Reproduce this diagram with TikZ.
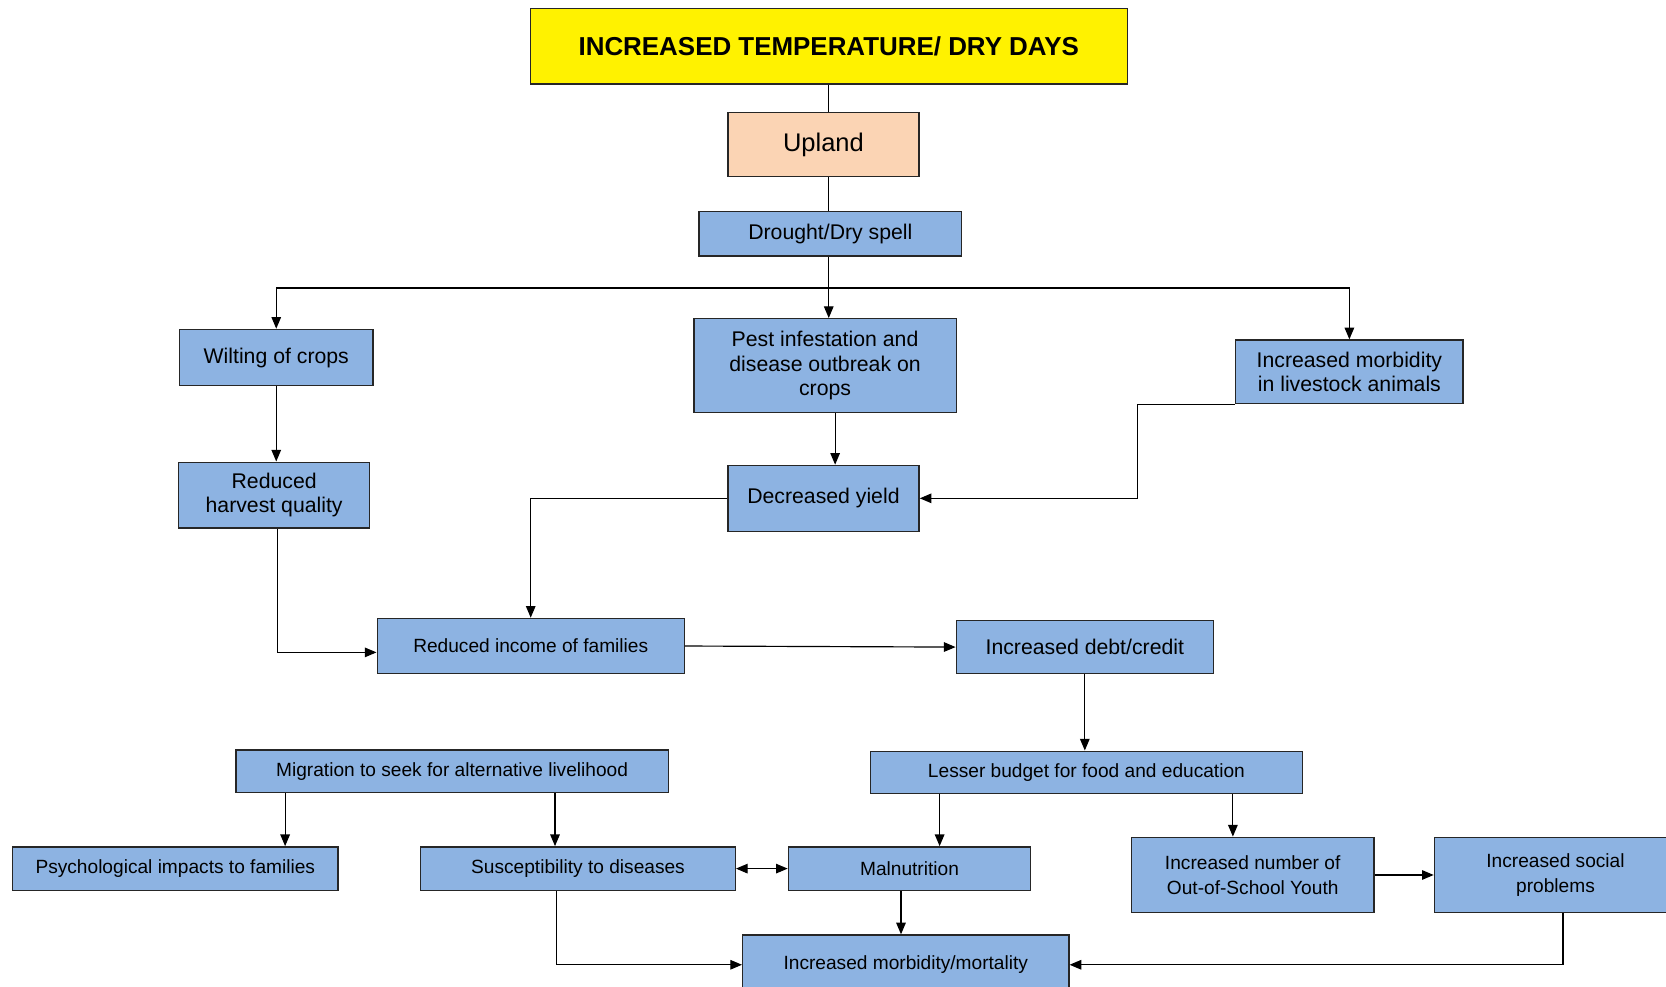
\documentclass[tikz,border=0pt]{standalone}
\usepackage{fontspec}
\setmainfont{Liberation Sans}
\usetikzlibrary{arrows.meta,calc}

\definecolor{boxblue}{HTML}{8DB3E2}
\definecolor{peach}{HTML}{FBD4B4}
\definecolor{edgegray}{HTML}{262626}

\tikzset{
  base/.style={draw=edgegray, line width=0.65pt, inner sep=0pt, align=center, text=black},
  bluebox/.style={base, fill=boxblue},
  bigtxt/.style={font=\fontsize{10}{11.5}\selectfont},
  smalltxt/.style={font=\fontsize{9}{11.5}\selectfont},
  conn/.style={draw=black, line width=0.55pt},
  arr/.style={conn, -{Triangle[length=5.5pt,width=4.5pt]}},
  darr/.style={conn, {Triangle[length=5.5pt,width=4.5pt]}-{Triangle[length=5.5pt,width=4.5pt]}},
}

\begin{document}
\begin{tikzpicture}[x=0.5pt, y=-0.5pt]
  \useasboundingbox (0,0) rectangle (1568,928);
  \clip (0,0) rectangle (1568,928);
  \fill[white] (0,0) rectangle (1568,928);

  % top of the chain
  \node[base, fill=yellow, minimum width=281pt, minimum height=35.5pt,
        font=\fontsize{12.2}{14}\selectfont\bfseries] (title) at (780,43.5)
        {INCREASED TEMPERATURE/ DRY DAYS};
  \node[base, fill=peach, minimum width=90pt, minimum height=30pt,
        font=\fontsize{12}{14}\selectfont] (upland) at (775,136) {Upland};
  \node[bluebox, bigtxt, minimum width=123.5pt, minimum height=21pt] (drought) at (781.5,220) {Drought/Dry spell};

  % first-level effects
  \node[bluebox, bigtxt, minimum width=91pt, minimum height=26.5pt] (wilt) at (260,336.5) {Wilting of crops};
  \node[bluebox, bigtxt, minimum width=123.5pt, minimum height=44pt] (pest) at (776.5,344)
        {Pest infestation and\\disease outbreak on\\crops};
  \node[bluebox, bigtxt, minimum width=107pt, minimum height=30pt] (live) at (1270,350)
        {Increased morbidity\\in livestock animals};

  % second level
  \node[bluebox, bigtxt, minimum width=90pt, minimum height=31pt] (harvest) at (258,466)
        {Reduced\\harvest quality};
  \node[bluebox, bigtxt, minimum width=90pt, minimum height=31pt] (yield) at (775,469) {Decreased yield};

  % household economy
  \node[bluebox, smalltxt, minimum width=144.5pt, minimum height=26pt] (income) at (499.5,608) {Reduced income of families};
  \node[bluebox, bigtxt, minimum width=121pt, minimum height=25pt] (debt) at (1021,609) {Increased debt/credit};

  \node[bluebox, smalltxt, minimum width=203.5pt, minimum height=20pt] (migr) at (425.5,726)
        {Migration to seek for alternative livelihood};
  \node[bluebox, smalltxt, minimum width=203.5pt, minimum height=20pt] (lesser) at (1022.5,727)
        {Lesser budget for food and education};

  % social and health outcomes
  \node[bluebox, smalltxt, minimum width=153pt, minimum height=20.5pt] (psych) at (165,817.5)
        {Psychological impacts to families};
  \node[bluebox, smalltxt, minimum width=148pt, minimum height=20.5pt] (susc) at (544,817.5)
        {Susceptibility to diseases};
  \node[bluebox, smalltxt, minimum width=114pt, minimum height=20.5pt] (mal) at (856,817.5) {Malnutrition};
  \node[bluebox, smalltxt, minimum width=114pt, minimum height=35.5pt] (osy) at (1179,823.5)
        {Increased number of\\Out-of-School Youth};
  \node[bluebox, smalltxt, minimum width=114pt, minimum height=35.5pt] (social) at (1464,823.5)
        {Increased social\\problems};
  \node[bluebox, smalltxt, minimum width=153.5pt, minimum height=28pt] (morb) at (852.5,908)
        {Increased morbidity/mortality};

  % trunk from the title down to the drought box
  \draw[conn] (title.south) -- (title.south |- upland.north);
  \draw[conn] (title.south |- upland.south) -- (title.south |- drought.north);

  % three-way split below the drought box
  \coordinate (split) at (780,271);
  \draw[conn] (drought.south -| split) -- (split);
  \draw[arr] (split) -- (split |- pest.north);
  \draw[arr] (split) -| (wilt.north);
  \draw[arr] (split) -| (live.north);

  \draw[arr] (wilt.south) -- (wilt.south |- harvest.north);
  \coordinate (p1) at ($(pest.south)+(9.5,0)$);
  \draw[arr] (p1) -- (p1 |- yield.north);
  \draw[arr] (live.south west) -- ++(-92,0) |- (yield.east);

  \draw[arr] (yield.west) -| (income.north);
  \coordinate (h1) at ($(harvest.south)+(3,0)$);
  \draw[arr] (h1) |- ($(income.west)+(0,6)$);
  \draw[arr] (income.east) -- (debt.west);
  \draw[arr] (debt.south) -- (debt.south |- lesser.north);

  \coordinate (l1) at ($(lesser.south west)+(66,0)$);
  \coordinate (l2) at ($(lesser.south west)+(342,0)$);
  \draw[arr] (l1) -- (l1 |- mal.north);
  \draw[arr] (l2) -- (l2 |- osy.north);

  \coordinate (m1) at ($(migr.south west)+(47,0)$);
  \coordinate (m2) at ($(migr.south west)+(301,0)$);
  \draw[arr] (m1) -- (m1 |- psych.north);
  \draw[arr] (m2) -- (m2 |- susc.north);

  \draw[darr] (susc.east) -- (mal.west);
  \coordinate (n1) at ($(mal.south)+(-8,0)$);
  \draw[arr] (n1) -- (n1 |- morb.north);
  \coordinate (s1) at ($(susc.south)+(-20,0)$);
  \draw[arr] (s1) |- (morb.west);
  \draw[arr] (osy.east) -- (social.west);
  \coordinate (q1) at ($(social.south)+(7,0)$);
  \draw[arr] (q1) |- (morb.east);
\end{tikzpicture}
\end{document}
